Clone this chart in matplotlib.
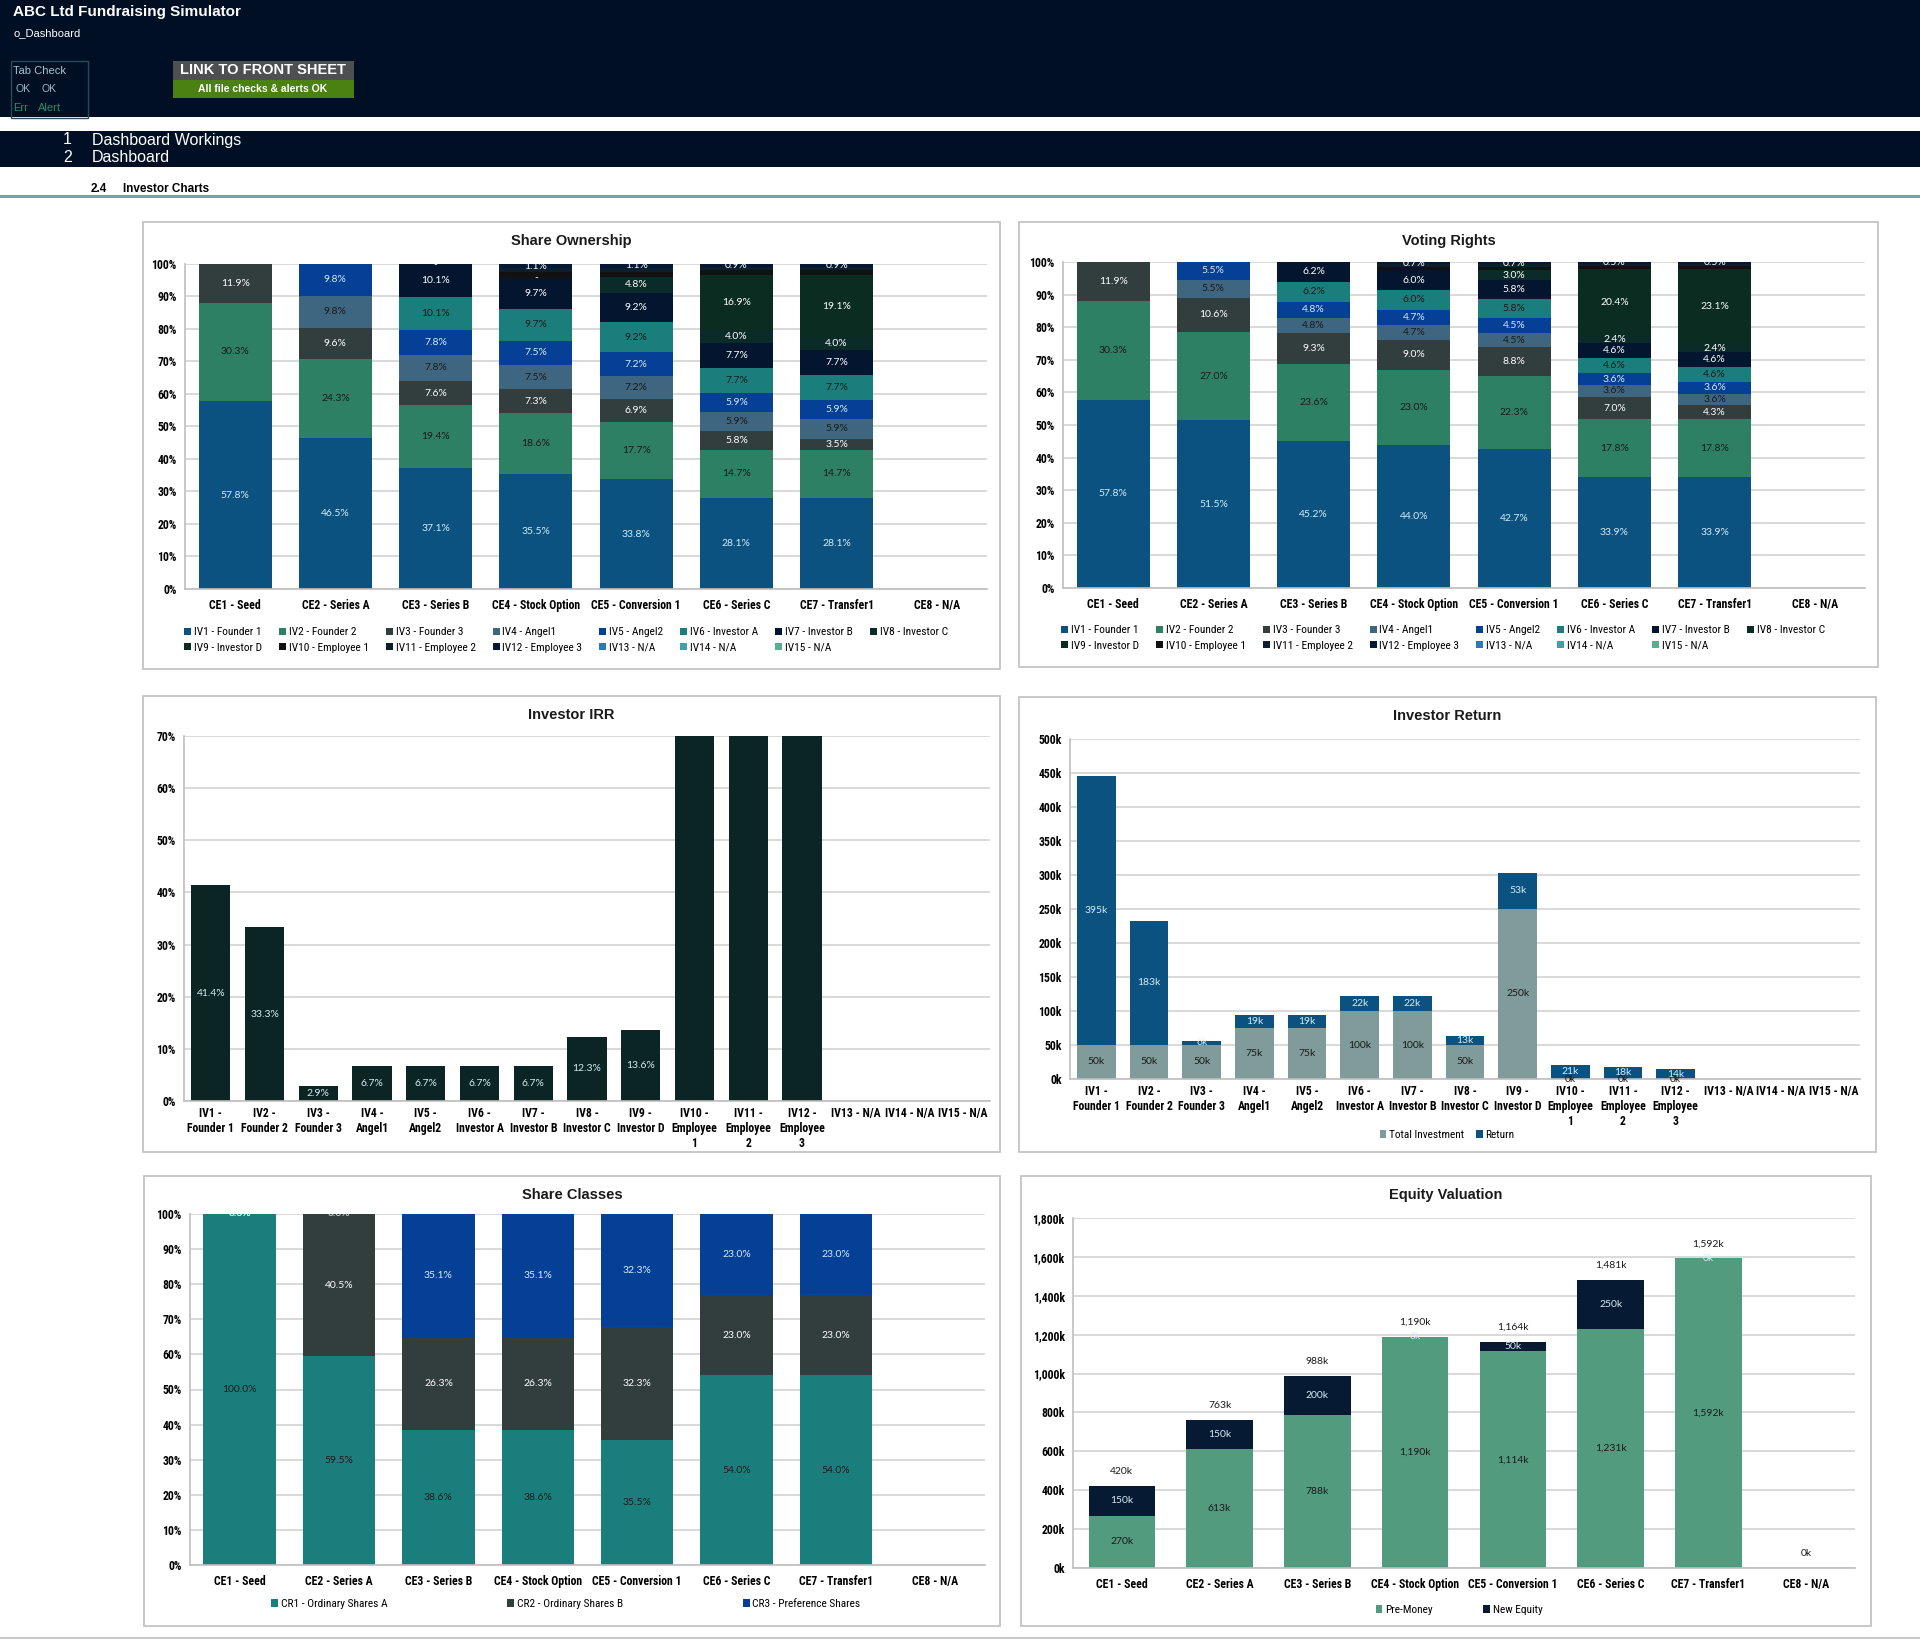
import numpy as np
import matplotlib
matplotlib.use('Agg')
import matplotlib.pyplot as plt
from matplotlib.patches import Rectangle
from matplotlib import font_manager

W, H = 1920, 1641

# pick a narrow face if one is installed (the sheet uses Arial Narrow)
fonts = font_manager.fontManager.ttflist
NARROW_NAME = None
STRETCH = 'normal'
for want in ['Liberation Sans Narrow', 'Arial Narrow', 'Roboto Condensed',
             'DejaVu Sans Condensed', 'Open Sans Condensed']:
    if any(f.name == want for f in fonts):
        NARROW_NAME = want
        break
if NARROW_NAME is None and any(f.name == 'DejaVu Sans' and f.stretch == 'condensed' for f in fonts):
    NARROW_NAME = 'DejaVu Sans'
    STRETCH = 'condensed'
HAVE_NARROW = NARROW_NAME is not None
NARROW = [NARROW_NAME or 'Liberation Sans', 'Liberation Sans', 'DejaVu Sans']
SANS = ['Liberation Sans', 'DejaVu Sans']
LBL = ['Lato', 'DejaVu Sans']
plt.rcParams['font.family'] = NARROW
plt.rcParams['font.stretch'] = STRETCH
TICK = 8.5 if HAVE_NARROW else 7.2
LEG = 8.2 if HAVE_NARROW else 7.2

# ---------------- data ----------------
events = ['CE1 - Seed', 'CE2 - Series A', 'CE3 - Series B', 'CE4 - Stock Option',
          'CE5 - Conversion 1', 'CE6 - Series C', 'CE7 - Transfer1', 'CE8 - N/A']

investors = ['IV1 - Founder 1', 'IV2 - Founder 2', 'IV3 - Founder 3', 'IV4 - Angel1',
             'IV5 - Angel2', 'IV6 - Investor A', 'IV7 - Investor B', 'IV8 - Investor C',
             'IV9 - Investor D', 'IV10 - Employee 1', 'IV11 - Employee 2',
             'IV12 - Employee 3', 'IV13 - N/A', 'IV14 - N/A', 'IV15 - N/A']
investor_ticks = ['IV1 -\nFounder 1', 'IV2 -\nFounder 2', 'IV3 -\nFounder 3', 'IV4 -\nAngel1',
                  'IV5 -\nAngel2', 'IV6 -\nInvestor A', 'IV7 -\nInvestor B', 'IV8 -\nInvestor C',
                  'IV9 -\nInvestor D', 'IV10 -\nEmployee\n1', 'IV11 -\nEmployee\n2',
                  'IV12 -\nEmployee\n3', 'IV13 - N/A', 'IV14 - N/A', 'IV15 - N/A']

# share ownership (%), one list per investor, one value per event
own_iv1 = [57.8, 46.5, 37.1, 35.5, 33.8, 28.1, 28.1, 0]
own_iv2 = [30.3, 24.3, 19.4, 18.6, 17.7, 14.7, 14.7, 0]
own_iv3 = [11.9, 9.6, 7.6, 7.3, 6.9, 5.8, 3.5, 0]
own_iv4 = [0, 9.8, 7.8, 7.5, 7.2, 5.9, 5.9, 0]
own_iv5 = [0, 9.8, 7.8, 7.5, 7.2, 5.9, 5.9, 0]
own_iv6 = [0, 0, 10.1, 9.7, 9.2, 7.7, 7.7, 0]
own_iv7 = [0, 0, 10.1, 9.7, 9.2, 7.7, 7.7, 0]
own_iv8 = [0, 0, 0, 0, 4.8, 4.0, 4.0, 0]
own_iv9 = [0, 0, 0, 0, 0, 16.9, 19.1, 0]
own_iv10 = [0, 0, 0, 1.6, 1.6, 1.3, 1.4, 0]
own_iv11 = [0, 0, 0, 1.4, 1.3, 1.1, 1.1, 0]
own_iv12 = [0, 0, 0, 1.1, 1.1, 0.9, 0.9, 0]
own_iv13 = [0, 0, 0, 0, 0, 0, 0, 0]
own_iv14 = [0, 0, 0, 0, 0, 0, 0, 0]
own_iv15 = [0, 0, 0, 0, 0, 0, 0, 0]

# voting rights (%)
vote_iv1 = [57.8, 51.5, 45.2, 44.0, 42.7, 33.9, 33.9, 0]
vote_iv2 = [30.3, 27.0, 23.6, 23.0, 22.3, 17.8, 17.8, 0]
vote_iv3 = [11.9, 10.6, 9.3, 9.0, 8.8, 7.0, 4.3, 0]
vote_iv4 = [0, 5.5, 4.8, 4.7, 4.5, 3.6, 3.6, 0]
vote_iv5 = [0, 5.5, 4.8, 4.7, 4.5, 3.6, 3.6, 0]
vote_iv6 = [0, 0, 6.2, 6.0, 5.8, 4.6, 4.6, 0]
vote_iv7 = [0, 0, 6.2, 6.0, 5.8, 4.6, 4.6, 0]
vote_iv8 = [0, 0, 0, 0, 3.0, 2.4, 2.4, 0]
vote_iv9 = [0, 0, 0, 0, 0, 20.4, 23.1, 0]
vote_iv10 = [0, 0, 0, 1.0, 1.0, 0.9, 0.9, 0]
vote_iv11 = [0, 0, 0, 0.9, 0.9, 0.7, 0.7, 0]
vote_iv12 = [0, 0, 0, 0.7, 0.7, 0.5, 0.5, 0]
vote_iv13 = [0, 0, 0, 0, 0, 0, 0, 0]
vote_iv14 = [0, 0, 0, 0, 0, 0, 0, 0]
vote_iv15 = [0, 0, 0, 0, 0, 0, 0, 0]

# investor IRR (%); employees run far off the 70% scale
irr = [41.4, 33.3, 2.9, 6.7, 6.7, 6.7, 6.7, 12.3, 13.6, 250.0, 250.0, 250.0, 0, 0, 0]

# investor return (k)
total_investment = [50, 50, 50, 75, 75, 100, 100, 50, 250, 0, 0, 0, 0, 0, 0]
investor_return = [395, 183, 6, 19, 19, 22, 22, 13, 53, 21, 18, 14, 0, 0, 0]

# share classes (%)
share_classes = ['CR1 - Ordinary Shares A', 'CR2 - Ordinary Shares B', 'CR3 - Preference Shares']
cr1 = [100.0, 59.5, 38.6, 38.6, 35.5, 54.0, 54.0, 0]
cr2 = [0.0, 40.5, 26.3, 26.3, 32.3, 23.0, 23.0, 0]
cr3 = [0.0, 0.0, 35.1, 35.1, 32.3, 23.0, 23.0, 0]

# equity valuation (k)
pre_money = [270, 613, 788, 1190, 1114, 1231, 1592, 0]
new_equity = [150, 150, 200, 0, 50, 250, 0, 0]

# ---------------- styles ----------------
iv_colors = ['#0b5281', '#2e8064', '#323d3d', '#3e6680', '#053f96', '#1a7f7c', '#04162f',
             '#0b2b29', '#0b2d21', '#111111', '#0c1f2c', '#061833', '#2b7bb5', '#3fa0a6', '#5aae8c']
LIGHT = '#d3ecf4'
DARK = '#1a1a1a'
iv_txt = [LIGHT, DARK, 'white', DARK, LIGHT, DARK, 'white', 'white', 'white',
          'white', 'white', 'white', 'white', 'white', 'white']
GRID = '#d9d9d9'
NAVY = '#010f24'

fig = plt.figure(figsize=(W / 100, H / 100), dpi=100)
fig.patch.set_facecolor('white')


def box(x0, y0, x1, y1, fc, ec='none', lw=0):
    fig.add_artist(Rectangle((x0 / W, 1 - y1 / H), (x1 - x0) / W, (y1 - y0) / H,
                             transform=fig.transFigure, facecolor=fc, edgecolor=ec,
                             linewidth=lw))


def ftext(x, y, s, **kw):
    kw.setdefault('va', 'center')
    kw.setdefault('fontstretch', 'normal')
    fig.text(x / W, 1 - y / H, s, **kw)


def axes_at(x0, y0, x1, y1):
    return fig.add_axes([x0 / W, 1 - y1 / H, (x1 - x0) / W, (y1 - y0) / H])


def style(ax, n, yticks, ylabels, xlabels, xpad=6):
    ax.set_xlim(-0.5, n - 0.5)
    ax.set_ylim(yticks[0], yticks[-1])
    ax.set_yticks(yticks, ylabels, fontweight='bold', fontsize=TICK)
    ax.set_xticks(np.arange(n), xlabels, fontweight='bold', fontsize=TICK)
    ax.grid(axis='y', color=GRID, lw=1.4)
    ax.set_axisbelow(True)
    for s in ['top', 'right']:
        ax.spines[s].set_visible(False)
    for s in ['left', 'bottom']:
        ax.spines[s].set_color('#bfbfbf')
        ax.spines[s].set_linewidth(1.2)
    ax.tick_params(axis='x', length=0, pad=xpad)
    ax.tick_params(axis='y', length=0, pad=6)


def dlabel(ax, x, y, s, color, clip=True):
    ax.text(x, y, s, ha='center', va='center', color=color, fontsize=7.5,
            family=LBL, fontstretch='normal', clip_on=clip)


# ---------------- header ----------------
box(0, 0, W, 117, NAVY)
ftext(13, 12, 'ABC Ltd Fundraising Simulator', color='white', fontsize=11,
      fontweight='bold', family=SANS)
ftext(13, 33, 'o_Dashboard', color='white', fontsize=8, family=SANS)
box(11, 61, 88, 118, 'none', ec='#2c4a58', lw=1)
ftext(13, 71, 'Tab Check', color='#a9c3d3', fontsize=8, family=SANS)
ftext(16, 89, 'OK', color='#9fb4c2', fontsize=7.5, family=SANS)
ftext(42, 89, 'OK', color='#9fb4c2', fontsize=7.5, family=SANS)
ftext(13, 108, 'Err', color='#2f8c64', fontsize=8, family=SANS)
ftext(38, 108, 'Alert', color='#2f8c64', fontsize=8, family=SANS)
box(173, 61, 354, 80, '#4d4f50')
ftext(263, 70.5, 'LINK TO FRONT SHEET', color='white', fontsize=10.5,
      fontweight='bold', family=SANS, ha='center')
box(173, 80, 354, 98, '#4b8012')
ftext(263, 89, 'All file checks & alerts OK', color='white', fontsize=7.5,
      fontweight='bold', family=SANS, ha='center')

box(0, 131, W, 167, NAVY)
ftext(72, 140, '1', color='white', fontsize=11.5, family=SANS, ha='right')
ftext(92, 140, 'Dashboard Workings', color='white', fontsize=11.5, family=SANS)
ftext(72, 158, '2', color='white', fontsize=11.5, family=SANS, ha='right')
ftext(92, 158, 'Dashboard', color='white', fontsize=11.5, family=SANS)
ftext(91, 189, '2.4', color='black', fontsize=8.5, fontweight='bold', family=SANS)
ftext(123, 189, 'Investor Charts', color='black', fontsize=8.5, fontweight='bold', family=SANS)
box(0, 195, W, 197.5, '#6aa6b6')
box(0, 1637, W, 1639, '#c8c8c8')

# panel frames and titles
panels = [(143, 222, 1000, 669, 'Share Ownership'),
          (1019, 222, 1878, 667, 'Voting Rights'),
          (143, 696, 1000, 1152, 'Investor IRR'),
          (1019, 697, 1876, 1152, 'Investor Return'),
          (144, 1176, 1000, 1626, 'Share Classes'),
          (1021, 1176, 1871, 1626, 'Equity Valuation')]
for x0, y0, x1, y1, t in panels:
    box(x0, y0, x1, y1, 'none', ec='#c4c4c4', lw=1.3)
    ftext((x0 + x1) / 2, y0 + 19, t, color='#1a1a1a', fontsize=10.5,
          fontweight='bold', family=SANS, ha='center')


def legend(ax, handles, labels, cx, cy, ncol, colsp, rowsp=0.3):
    ax.legend(handles, labels, loc='center', bbox_to_anchor=(cx / W, 1 - cy / H),
              bbox_transform=fig.transFigure, ncol=ncol, frameon=False,
              prop={'family': NARROW, 'size': LEG, 'stretch': STRETCH},
              handlelength=0.6, handleheight=0.6, handletextpad=0.25,
              columnspacing=colsp, labelspacing=rowsp, borderpad=0)


def pct_stack(ax, rows):
    x = np.arange(len(events))
    bottom = np.zeros(len(events))
    handles = []
    for i, r in enumerate(rows):
        handles.append(ax.bar(x, r, 0.73, bottom=bottom, color=iv_colors[i], lw=0))
        bottom = bottom + np.array(r, dtype=float)
    # data labels; zero segments show a "-" where it does not sit on another label
    bottom = np.zeros(len(events))
    shown = []
    dashes = []
    for i, r in enumerate(rows):
        for j, v in enumerate(r):
            if sum(rr[j] for rr in rows) == 0:
                continue
            last = max(k for k in range(len(rows)) if rows[k][j] > 0)
            yc = bottom[j] + v / 2
            if v == 0:
                dashes.append((j, yc))
            elif v >= 2.0 or i == last:
                shown.append((j, yc))
                dlabel(ax, j, yc, f'{v:.1f}%', iv_txt[i])
        bottom = bottom + np.array(r, dtype=float)
    done = []
    for j, yc in dashes:
        near = any(jj == j and abs(yy - yc) < 2.6 for jj, yy in shown + done)
        if not near:
            done.append((j, yc))
            dlabel(ax, j, yc, '-', 'white')
    yt = np.arange(0, 101, 10)
    style(ax, len(events), yt, [f'{v}%' for v in yt], events, xpad=7)
    order = [0, 8, 1, 9, 2, 10, 3, 11, 4, 12, 5, 13, 6, 14, 7]
    return [handles[k] for k in order], [investors[k] for k in order]


CS8 = 1.5 if HAVE_NARROW else 0.9

# ---------------- share ownership ----------------
ax1 = axes_at(185, 264, 987, 589)
own = [own_iv1, own_iv2, own_iv3, own_iv4, own_iv5, own_iv6, own_iv7, own_iv8,
       own_iv9, own_iv10, own_iv11, own_iv12, own_iv13, own_iv14, own_iv15]
h, l = pct_stack(ax1, own)
legend(ax1, h, l, 566, 640, 8, CS8, 0.45)

# ---------------- voting rights ----------------
ax2 = axes_at(1063, 262, 1865, 588)
vote = [vote_iv1, vote_iv2, vote_iv3, vote_iv4, vote_iv5, vote_iv6, vote_iv7, vote_iv8,
        vote_iv9, vote_iv10, vote_iv11, vote_iv12, vote_iv13, vote_iv14, vote_iv15]
h, l = pct_stack(ax2, vote)
legend(ax2, h, l, 1443, 638, 8, CS8, 0.45)

# ---------------- investor IRR ----------------
ax3 = axes_at(184, 736, 990, 1101)
xi = np.arange(len(investors))
ax3.bar(xi, irr, 0.73, color='#0a2523', lw=0)
for j, v in enumerate(irr):
    if v > 0:
        dlabel(ax3, j, v / 2, f'{v:.1f}%', LIGHT)
yt = np.arange(0, 71, 10)
style(ax3, len(investors), yt, [f'{v}%' for v in yt], investor_ticks, xpad=4)

# ---------------- investor return ----------------
ax4 = axes_at(1070, 739, 1860, 1079)
b1 = ax4.bar(xi, total_investment, 0.73, color='#7f9c9a', lw=0)
b2 = ax4.bar(xi, investor_return, 0.73, bottom=total_investment, color='#0b5281', lw=0)
for j in range(len(investors)):
    t, r = total_investment[j], investor_return[j]
    if t + r == 0:
        continue
    dlabel(ax4, j, t / 2, f'{t:,.0f}k', DARK, clip=False)
    dlabel(ax4, j, t + r / 2, f'{r:,.0f}k', LIGHT, clip=False)
yt = np.arange(0, 501, 50)
style(ax4, len(investors), yt, [f'{v}k' for v in yt], investor_ticks, xpad=4)
legend(ax4, [b1, b2], ['Total Investment', 'Return'], 1447, 1135, 2, 1.0)

# ---------------- share classes ----------------
ax5 = axes_at(190, 1214, 985, 1565)
xe = np.arange(len(events))
cls_colors = ['#1a7f7c', '#323d3d', '#053f96']
cls_txt = [DARK, 'white', LIGHT]
bottom = np.zeros(len(events))
hs = []
for k, r in enumerate([cr1, cr2, cr3]):
    hs.append(ax5.bar(xe, r, 0.73, bottom=bottom, color=cls_colors[k], lw=0))
    for j, v in enumerate(r):
        if cr1[j] + cr2[j] + cr3[j] == 0:
            continue
        if v == 0 and (bottom[j] < 99.9 or k < 2 and cr3[j] == 0 and k != 1):
            continue
        dlabel(ax5, j, bottom[j] + v / 2, f'{v:.1f}%', cls_txt[k] if v > 0 else LIGHT)
    bottom = bottom + np.array(r)
yt = np.arange(0, 101, 10)
style(ax5, len(events), yt, [f'{v}%' for v in yt], events, xpad=7)
legend(ax5, hs, share_classes, 566, 1604, 3, 10.5 if HAVE_NARROW else 9.5)

# ---------------- equity valuation ----------------
ax6 = axes_at(1073, 1218, 1855, 1568)
e1 = ax6.bar(xe, pre_money, 0.68, color='#529b7f', lw=0)
e2 = ax6.bar(xe, new_equity, 0.68, bottom=pre_money, color='#061a33', lw=0)
for j in range(len(events)):
    p, n = pre_money[j], new_equity[j]
    tot = p + n
    if tot > 0:
        dlabel(ax6, j, p / 2, f'{p:,.0f}k', DARK)
        dlabel(ax6, j, p + n / 2, f'{n:,.0f}k', LIGHT)
    ax6.annotate(f'{tot:,.0f}k', (j, tot), xytext=(0, 10.5), textcoords='offset points',
                 ha='center', va='center', color=DARK, fontsize=7.5, family=LBL,
                 fontstretch='normal')
yt = np.arange(0, 1801, 200)
style(ax6, len(events), yt, [f'{v:,}k' for v in yt], events, xpad=7)
legend(ax6, [e1, e2], ['Pre-Money', 'New Equity'], 1459, 1610, 2, 4.4)

fig.savefig('out.png', dpi=100)
